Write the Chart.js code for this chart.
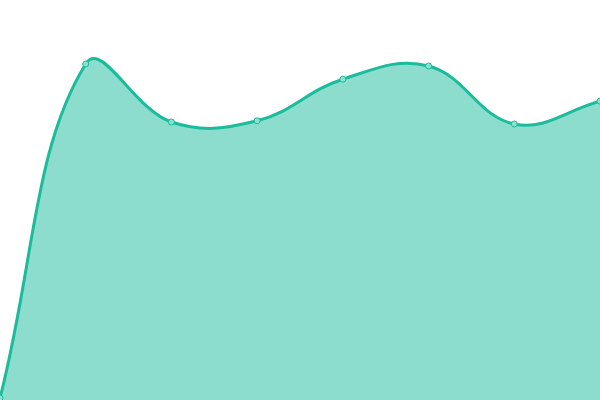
<!DOCTYPE html>
<html>
<head>
<meta charset="utf-8">
<script src="https://cdn.jsdelivr.net/npm/chart.js@4"></script>
<style>
  html, body { margin: 0; padding: 0; background: #fff; }
  #wrap { width: 600px; height: 400px; }
</style>
</head>
<body>
<div id="wrap"><canvas id="areaChart"></canvas></div>
<script>
const labels = ["1", "2", "3", "4", "5", "6", "7", "8"];
const values = [0.5, 84, 69.5, 69.8, 80.2, 83.5, 69, 74.7];

const ctx = document.getElementById("areaChart").getContext("2d");

new Chart(ctx, {
  type: "line",
  data: {
    labels: labels,
    datasets: [
      {
        data: values,
        fill: true,
        tension: 0.4,
        borderColor: "#1abc9c",
        borderWidth: 3,
        backgroundColor: "rgba(26, 188, 156, 0.5)",
        pointRadius: 3,
        pointBorderWidth: 1,
        pointBackgroundColor: "#8ce0cf",
        pointBorderColor: "#1abc9c",
      },
    ],
  },
  options: {
    responsive: true,
    maintainAspectRatio: false,
    animation: false,
    layout: { padding: 0, autoPadding: false },
    plugins: {
      legend: { display: false },
      tooltip: { enabled: false },
    },
    scales: {
      x: { display: false, offset: false },
      y: { display: false, min: 0, max: 100 },
    },
  },
});
</script>
</body>
</html>
